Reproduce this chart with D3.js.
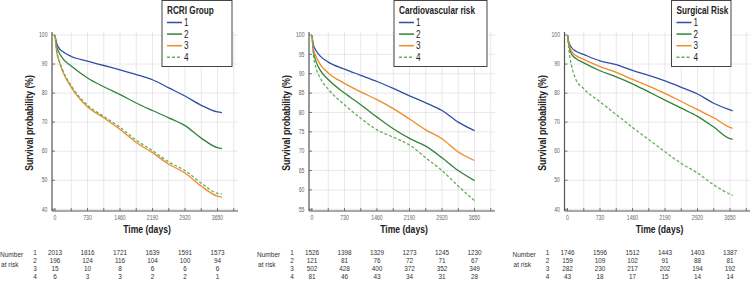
<!DOCTYPE html>
<html><head><meta charset="utf-8">
<script src="https://cdn.jsdelivr.net/npm/d3@7/dist/d3.min.js"></script>
<style>
body{margin:0;background:#fff;}
svg{display:block;}
text{font-family:'Liberation Sans',Arial,sans-serif;}
</style></head>
<body>
<svg id="c" width="750" height="283"></svg>
<script>
// ---------- DATA ----------
const groupLabels = ["1","2","3","4"];
const panelTitles = ["RCRI Group","Cardiovascular risk","Surgical Risk"];
const xTickLabels = [0,730,1460,2190,2920,3650];
const yTicksP1 = [40,50,60,70,80,90,100];
const yTicksP2 = [55,60,65,70,75,80,85,90,95,100];
const yTicksP3 = [40,50,60,70,80,90,100];

const timesP1 = [0,30,90,180,365,730,1095,1460,1825,2190,2555,2920,3285,3650,3750];
const timesP2 = [0,30,90,180,365,730,1095,1460,1825,2190,2555,2920,3285,3650];
const timesP3 = [0,30,90,180,365,730,1095,1460,1825,2190,2555,2920,3285,3650,3710];

// RCRI Group survival (%)
const rcri1 = [100,97.5,95.5,94.2,92.6,91.0,89.5,88.0,86.4,84.6,81.8,79.0,75.8,73.5,73.3];
const rcri2 = [100,96.5,94.0,91.8,89.3,85.2,82.2,79.5,76.6,74.0,71.5,68.8,64.5,61.2,60.9];
const rcri3 = [100,95.0,91.0,87.2,82.0,75.3,71.5,67.5,63.0,59.5,55.5,52.5,48.0,44.5,44.2];
const rcri4 = [100,95.5,91.5,87.7,82.5,75.8,72.0,68.2,63.8,60.2,56.3,53.3,49.0,45.5,45.3];
// Cardiovascular risk survival (%)
const cv1 = [100,97.5,96.0,94.6,93.0,91.2,89.6,88.0,86.2,84.3,82.5,80.5,77.5,75.3];
const cv2 = [100,96.0,93.2,91.0,88.5,85.0,82.0,78.8,75.8,73.3,71.3,68.3,65.0,62.4];
const cv3 = [100,96.5,94.5,92.5,90.2,87.5,85.3,83.3,81.0,78.3,75.5,73.2,69.8,67.6];
const cv4 = [100,95.0,91.5,89.0,86.0,82.0,78.5,75.5,73.6,71.6,68.3,65.0,61.0,57.2];
// Surgical risk survival (%)
const sr1 = [100,97.5,95.7,94.5,93.3,91.1,89.8,87.8,86.1,84.2,82.0,79.7,76.5,74.2,73.9];
const sr2 = [100,96.5,93.5,92.0,90.4,87.7,85.6,83.2,80.4,77.6,74.8,72.0,68.3,64.3,64.1];
const sr3 = [100,97.0,94.5,93.0,91.6,89.1,87.1,84.7,82.4,79.9,77.1,74.3,71.5,68.2,67.9];
const sr4 = [100,95.0,89.5,85.0,81.5,77.0,72.6,68.2,64.0,59.8,55.8,52.5,48.4,45.2,44.8];

// Number at risk
const riskTimes = [0,730,1460,2190,2920,3650];
const rcriRisk = [[2013,1816,1721,1639,1591,1573],[196,124,116,104,100,94],[15,10,8,6,6,6],[6,3,3,2,2,1]];
const cvRisk = [[1526,1398,1329,1273,1245,1230],[121,81,76,72,71,67],[502,428,400,372,352,349],[81,46,43,34,31,28]];
const srRisk = [[1746,1596,1512,1443,1403,1387],[159,109,102,91,88,81],[282,230,217,202,194,192],[43,18,17,15,14,14]];

// ---------- STYLE / LAYOUT ----------
const colors = ["#2f4fa6","#33833a","#f08a2a","#63b057"];
const dashes = [null,null,null,"3,2"];
const panels = [
  {x0:55,  title:panelTitles[0], times:timesP1, series:[rcri1,rcri2,rcri3,rcri4], risk:rcriRisk, yMin:40, yTicks:yTicksP1, leg:[162,232]},
  {x0:312, title:panelTitles[1], times:timesP2, series:[cv1,cv2,cv3,cv4], risk:cvRisk, yMin:55, yTicks:yTicksP2, leg:[394,487]},
  {x0:567.5, title:panelTitles[2], times:timesP3, series:[sr1,sr2,sr3,sr4], risk:srRisk, yMin:40, yTicks:yTicksP3, leg:[671.5,731]}
];
const svg = d3.select("#c");
const yTop = 35, yBot = 209.3, axisY = 211, plotTop = 32;
const NARROW = 0.82;

// narrow text helper (horizontal compression to mimic a condensed face)
function T(sel, x, y, str, o = {}) {
  return sel.append("text")
    .attr("transform", `translate(${x},${y})${o.rotate ? ` rotate(${o.rotate})` : ""} scale(${NARROW},1)`)
    .attr("text-anchor", o.anchor || "start")
    .attr("font-size", o.size || 8)
    .attr("font-weight", o.weight || "normal")
    .attr("fill", o.fill || "#333")
    .text(str);
}

panels.forEach((p) => {
  const g = svg.append("g");
  const x = d3.scaleLinear().domain([0,3650]).range([p.x0, p.x0+162.5]);
  const y = d3.scaleLinear().domain([p.yMin,100]).range([yBot, yTop]);
  const axX = p.x0 - 3;
  const rightEdge = p.x0 + 183;
  const xMax = x.invert(rightEdge);

  // grid
  const vgrid = d3.range(365, xMax, 365);
  g.selectAll(".vg").data(vgrid).join("line")
    .attr("x1", d=>x(d)).attr("x2", d=>x(d)).attr("y1", plotTop).attr("y2", axisY)
    .attr("stroke","#e2e2e2").attr("stroke-width",0.8);
  g.selectAll(".hg").data(p.yTicks).join("line")
    .attr("x1", axX).attr("x2", rightEdge).attr("y1", d=>y(d)).attr("y2", d=>y(d))
    .attr("stroke","#e2e2e2").attr("stroke-width",0.8);

  // axes lines
  g.append("line").attr("x1",axX).attr("x2",axX).attr("y1",plotTop).attr("y2",axisY)
    .attr("stroke","#555").attr("stroke-width",1.2);
  g.append("line").attr("x1",axX).attr("x2",rightEdge).attr("y1",axisY).attr("y2",axisY)
    .attr("stroke","#555").attr("stroke-width",1.2);
  // x ticks
  g.selectAll(".xt").data(d3.range(0, xMax, 365)).join("line")
    .attr("x1", d=>x(d)).attr("x2", d=>x(d)).attr("y1", axisY).attr("y2", axisY-3)
    .attr("stroke","#555").attr("stroke-width",0.8);
  xTickLabels.forEach(d => T(g, x(d), 220, d, {size:6.3, anchor:"middle", fill:"#666"}));
  // y ticks
  g.selectAll(".yt").data(p.yTicks).join("line")
    .attr("x1", axX).attr("x2", axX+3).attr("y1", d=>y(d)).attr("y2", d=>y(d))
    .attr("stroke","#555").attr("stroke-width",0.8);
  p.yTicks.forEach(d => T(g, axX-4.5, y(d)+2.2, d, {size:6.3, anchor:"end", fill:"#666"}));

  // axis titles
  T(g, p.x0+92, 233, "Time (days)", {size:10.5, weight:"bold", anchor:"middle", fill:"#222"});
  T(g, axX-19, 123, "Survival probability (%)", {size:10.5, weight:"bold", anchor:"middle", fill:"#222", rotate:-90});

  // curves
  const line = d3.line().x((d,i)=>x(p.times[i])).y(d=>y(d)).curve(d3.curveMonotoneX);
  p.series.forEach((s,k) => {
    g.append("path").attr("d", line(s)).attr("fill","none")
      .attr("stroke", colors[k]).attr("stroke-width",1.3)
      .attr("stroke-dasharray", dashes[k]);
  });

  // legend
  const [lx0, lx1] = p.leg;
  g.append("rect").attr("x",lx0).attr("y",0.5).attr("width",lx1-lx0).attr("height",66)
    .attr("fill","#fff").attr("stroke","#444").attr("stroke-width",1);
  T(g, lx0+5, 14, p.title, {size:10, weight:"bold", fill:"#222"});
  groupLabels.forEach((lab,k) => {
    const cy = 22.5 + k*11.6;
    g.append("line").attr("x1",lx0+5).attr("x2",lx0+20).attr("y1",cy).attr("y2",cy)
      .attr("stroke",colors[k]).attr("stroke-width",1.5).attr("stroke-dasharray",dashes[k]);
    T(g, lx0+22, cy+3.6, lab, {size:10, fill:"#222"});
  });

  // number at risk
  T(g, axX-52, 257, "Number", {size:8});
  T(g, axX-51, 266.5, "at risk", {size:8});
  p.risk.forEach((row,k) => {
    const ry = 255 + k*8;
    T(g, axX-17, ry, groupLabels[k], {size:7.8, anchor:"middle"});
    row.forEach((d,i) => T(g, x(riskTimes[i]), ry, d, {size:7.8, anchor:"middle"}));
  });
});
</script>
</body></html>
